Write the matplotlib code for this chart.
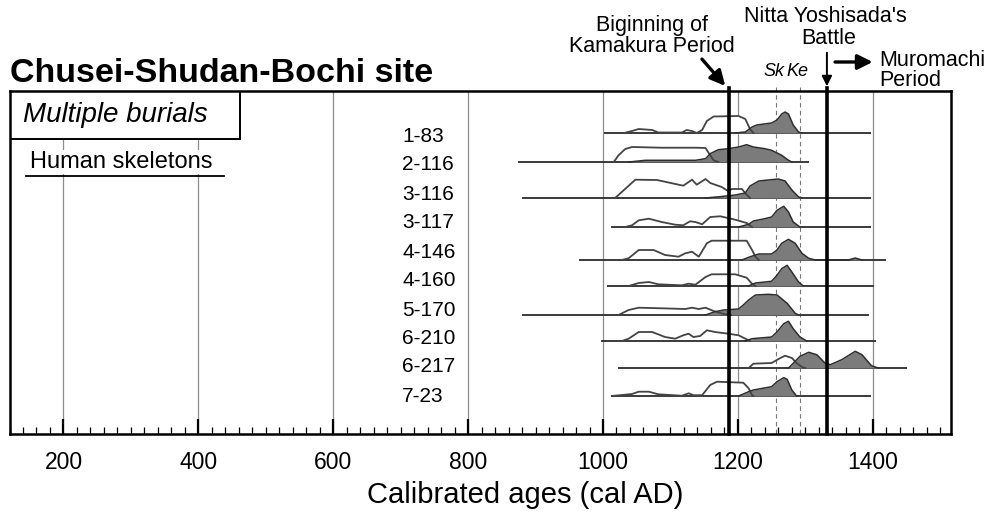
import matplotlib
matplotlib.use("Agg")
import matplotlib.pyplot as plt
from matplotlib.patches import Rectangle

plt.rcParams['font.family'] = ['Liberation Sans', 'DejaVu Sans']

# sample labels and where each row sits (y in picture pixels, axis is inverted)
sample_ids = ["1-83", "2-116", "3-116", "3-117", "4-146",
              "4-160", "5-170", "6-210", "6-217", "7-23"]
label_y = [136, 165, 194, 223, 252, 281, 310, 338, 367, 396]
base_y = [133, 162, 198, 227, 260, 286, 315, 341, 368, 396]

# horizontal extent of each baseline (cal AD)
line_start = [1003, 875, 881, 1014, 966, 1007, 881, 999, 1023, 1014]
line_end = [1396, 1304, 1396, 1396, 1418, 1400, 1393, 1404, 1450, 1396]

# open (white) probability distributions: years / heights
white_years = [
    [1031, 1043, 1053, 1073, 1082, 1117, 1124, 1132, 1139, 1147, 1154, 1164, 1201, 1211, 1218, 1223],
    [1016, 1023, 1033, 1043, 1087, 1137, 1152, 1159, 1164, 1171],
    [1018, 1048, 1080, 1119, 1132, 1139, 1152, 1159, 1176, 1186, 1191, 1206, 1213, 1218],
    [1033, 1043, 1053, 1068, 1087, 1107, 1119, 1129, 1137, 1147, 1159, 1174, 1196, 1213, 1221],
    [1028, 1038, 1053, 1075, 1092, 1112, 1122, 1132, 1142, 1154, 1161, 1213, 1221, 1226, 1231],
    [1038, 1053, 1068, 1082, 1117, 1127, 1137, 1152, 1161, 1196, 1213, 1221, 1226],
    [1023, 1038, 1053, 1087, 1122, 1132, 1142, 1152, 1164, 1179, 1190],
    [1028, 1038, 1053, 1073, 1092, 1107, 1119, 1127, 1134, 1144, 1154, 1166, 1186, 1201, 1211, 1218],
    [1216, 1223, 1250, 1263, 1270, 1280, 1287, 1295, 1300],
    [1013, 1043, 1053, 1068, 1082, 1117, 1127, 1134, 1147, 1159, 1169, 1208, 1216, 1221, 1223],
]
white_h = [
    [0, 2, 4, 3, 0.5, 0.5, 3, 2, 0, 3, 12, 16.5, 17, 14, 4, 0],
    [0, 6.7, 13, 15, 14.3, 14.3, 14, 6.7, 1.7, 0],
    [0, 18.3, 18, 12.3, 18.3, 13.3, 19, 15, 11, 6.7, 9, 9, 3.3, 0],
    [0, 1.7, 6.7, 8.3, 5, 2.3, 1.7, 5.7, 5, 2.7, 10, 10.7, 7.3, 4, 0],
    [0, 1.7, 10, 10, 5, 3.3, 6.7, 8.3, 3.3, 16.7, 19.3, 19.3, 10, 3.3, 0],
    [0, 3, 4, 1.7, 0.7, 2.3, 1.3, 9, 11.7, 11.7, 8.3, 2.3, 0],
    [0, 5, 7.3, 6.7, 6, 7.3, 6, 7.3, 4, 1, 0],
    [0, 2.3, 9, 9, 4, 2.3, 5.7, 7.3, 4, 5, 10.7, 9, 7.3, 5.7, 2.3, 0],
    [0, 4.3, 5, 10, 12.3, 10, 5, 1, 0],
    [0, 2, 4.3, 4.3, 1.7, 0.3, 2.7, 0.8, 0.8, 11, 14.3, 13.3, 7.7, 1, 0],
]

# filled (gray) probability distributions: years / heights
gray_years = [
    [1196, 1211, 1221, 1228, 1250, 1258, 1265, 1270, 1275, 1282, 1290, 1295],
    [1038, 1063, 1137, 1152, 1159, 1171, 1186, 1201, 1213, 1223, 1240, 1250, 1265, 1275, 1280],
    [1152, 1176, 1196, 1211, 1218, 1231, 1245, 1260, 1270, 1280, 1290, 1295],
    [1201, 1216, 1223, 1240, 1250, 1258, 1268, 1275, 1282, 1292],
    [1206, 1216, 1231, 1250, 1258, 1265, 1275, 1285, 1295, 1305, 1315, 1364, 1374, 1384],
    [1216, 1226, 1250, 1258, 1265, 1273, 1280, 1290, 1297],
    [1152, 1166, 1179, 1201, 1208, 1216, 1226, 1245, 1258, 1273, 1285, 1290],
    [1211, 1221, 1250, 1258, 1268, 1275, 1282, 1292, 1302],
    [1275, 1280, 1292, 1305, 1317, 1329, 1337, 1354, 1374, 1384, 1398, 1408],
    [1201, 1216, 1223, 1250, 1258, 1268, 1273, 1280, 1287],
]
gray_h = [
    [0, 1, 6, 8, 10, 13, 19, 21, 19, 8, 1, 0],
    [0, 1.7, 1.7, 3.3, 8.3, 12.3, 13.3, 15, 17.3, 15, 13.3, 11.7, 6.7, 1.7, 0],
    [0, 1.5, 3, 5, 12, 17, 18, 19, 17, 8, 1, 0],
    [0, 2.7, 6, 8.3, 10, 16.7, 20.7, 15, 5, 0],
    [0, 2.7, 6, 6, 10, 16.7, 20.7, 16.7, 6.7, 1.7, 0, 0, 2, 0],
    [0, 3, 4.7, 10.7, 17.3, 20.7, 14, 4, 0],
    [0, 3.3, 5, 6, 10, 15, 20, 20.7, 20, 11.7, 1.7, 0],
    [0, 2.3, 4, 9, 17.3, 19.7, 12.3, 4, 0],
    [0, 3.3, 11.7, 15.7, 13.3, 5, 3.3, 8.3, 16.7, 13.3, 2.3, 0],
    [0, 4.3, 6, 9.3, 14.3, 18.3, 16.7, 6, 0],
]

# historical events (cal AD)
kamakura_start = 1187
nitta_battle = 1332
sk_year = 1256
ke_year = 1292
major_ticks = [200, 400, 600, 800, 1000, 1200, 1400]

fig = plt.figure(figsize=(9.88, 5.15), dpi=100)
ax = fig.add_axes([9.5 / 988, 1 - 434 / 515, (951 - 9.5) / 988, (434 - 91) / 515])
ax.set_xlim(120, 1516)
ax.set_ylim(434, 91)

# light vertical grid
for t in major_ticks:
    ax.axvline(t, color="#8c8c8c", lw=0.9, zorder=1)

# distributions
for i in range(len(sample_ids)):
    y0 = base_y[i]
    ax.plot([line_start[i], line_end[i]], [y0, y0], color="#3a3a3a", lw=1.4, zorder=3)
    wy = [y0 - h for h in white_h[i]]
    gy = [y0 - h for h in gray_h[i]]
    ax.fill_between(white_years[i], y0, wy, color="white", zorder=2)
    ax.fill_between(gray_years[i], y0, gy, color="#7b7b7b", lw=0, zorder=3)
    ax.plot(white_years[i], wy, color="#444444", lw=1.3, zorder=4)
    ax.plot(gray_years[i], gy, color="#2e2e2e", lw=1.1, zorder=4)
    ax.text(702, label_y[i], sample_ids[i], fontsize=15, ha="left", va="center", zorder=5)

# event lines
for yr in (sk_year, ke_year):
    ax.plot([yr, yr], [87, 434], color="#777777", lw=0.8, ls=(0, (4, 3)), clip_on=False, zorder=2)
for yr in (kamakura_start, nitta_battle):
    ax.plot([yr, yr], [88, 434], color="black", lw=2.6, clip_on=False, zorder=6)

ax.text(sk_year - 2, 72, "Sk", fontsize=13, style="italic", ha="center", va="center")
ax.text(ke_year - 3, 72, "Ke", fontsize=13, style="italic", ha="center", va="center")

ax.annotate("", xy=(kamakura_start - 3, 88), xytext=(1144, 57), annotation_clip=False,
            arrowprops=dict(arrowstyle="-|>,head_length=0.9,head_width=0.45", color="black", lw=2.4))
ax.text(1072, 25, "Biginning of", fontsize=15.5, ha="center", va="center")
ax.text(1072, 46, "Kamakura Period", fontsize=15.5, ha="center", va="center")

ax.annotate("", xy=(nitta_battle, 89), xytext=(nitta_battle, 50), annotation_clip=False,
            arrowprops=dict(arrowstyle="-|>,head_length=0.6,head_width=0.3", color="black", lw=1.4))
ax.text(1330, 17, "Nitta Yoshisada's", fontsize=15.5, ha="center", va="center")
ax.text(1334, 39, "Battle", fontsize=15.5, ha="center", va="center")

ax.annotate("", xy=(1404, 62), xytext=(1340, 62), annotation_clip=False,
            arrowprops=dict(arrowstyle="-|>,head_length=0.9,head_width=0.45", color="black", lw=2.4))
ax.text(1409, 61, "Muromachi", fontsize=15.5, ha="left", va="center")
ax.text(1409, 80, "Period", fontsize=15.5, ha="left", va="center")

# boxes / labels on the left
ax.add_patch(Rectangle((0, (434 - 139) / (434 - 91)), (240 - 9.5) / (951 - 9.5),
                       (139 - 91) / (434 - 91), transform=ax.transAxes,
                       facecolor="white", edgecolor="black", lw=1.4, zorder=7))
ax.text(140, 115, "Multiple burials", fontsize=20, style="italic", ha="left", va="center", zorder=8)
ax.text(151, 162, "Human skeletons", fontsize=17, ha="left", va="center", zorder=8,
        bbox=dict(facecolor="white", edgecolor="none", pad=1))
ax.plot([144, 438], [176, 176], color="black", lw=1.3, zorder=8)

# axes styling
for side in ax.spines.values():
    side.set_linewidth(1.8)
    side.set_zorder(9)
ax.set_yticks([])
ax.set_xticks(major_ticks)
ax.set_xticks(range(120, 1516, 20), minor=True)
ax.tick_params(axis="x", which="major", direction="in", length=11, width=1.6, labelsize=16.5, pad=12)
ax.tick_params(axis="x", which="minor", direction="in", length=5, width=0.9)

fig.text(525 / 988, 1 - 495 / 515, "Calibrated ages (cal AD)", fontsize=21, ha="center", va="center")
fig.text(10 / 988, 1 - 82 / 515, "Chusei-Shudan-Bochi site", fontsize=24.5, weight="bold",
         ha="left", va="baseline")

fig.savefig("out.png", dpi=100)
